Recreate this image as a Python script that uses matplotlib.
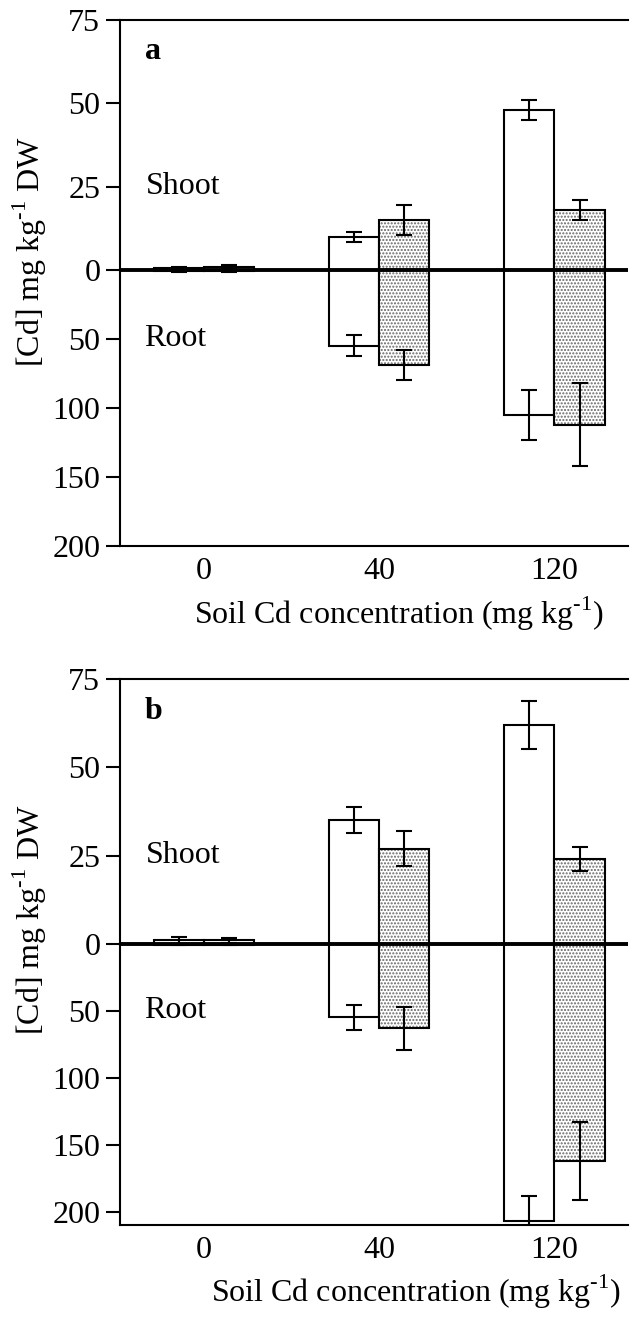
import numpy as np
import matplotlib
matplotlib.use("Agg")
import matplotlib.pyplot as plt

plt.rcParams['font.family'] = ['Liberation Serif', 'DejaVu Serif']
plt.rcParams['mathtext.fontset'] = 'custom'
plt.rcParams['mathtext.rm'] = 'Liberation Serif'

soil_cd = ["0", "40", "120"]

# panel a
shoot_a_white = [0.5, 10, 48]
shoot_a_white_err = [0.3, 1.5, 3]
shoot_a_dot = [1, 15, 18]
shoot_a_dot_err = [0.5, 4.4, 2.9]
root_a_white = [1, 55, 105]
root_a_white_err = [0.5, 7.5, 18]
root_a_dot = [1, 69, 112]
root_a_dot_err = [0.5, 11, 30]

# panel b
shoot_b_white = [1, 35, 62]
shoot_b_white_err = [1, 3.7, 6.7]
shoot_b_dot = [1, 27, 24]
shoot_b_dot_err = [0.7, 5, 3.4]
root_b_white = [0.5, 55, 207]
root_b_white_err = [0.3, 9, 19]
root_b_dot = [0.5, 63, 162]
root_b_dot_err = [0.3, 16, 29]

FS = 23
W = 0.286


def make_scale(k):
    # shoot (positive) and root (negative) use different px per unit
    def fwd(y):
        y = np.asarray(y, dtype=float)
        return np.where(y >= 0, y, y * k)

    def inv(y):
        y = np.asarray(y, dtype=float)
        return np.where(y >= 0, y, y / k)
    return fwd, inv


def panel(ax, k, ybottom, sw, swe, sd, sde, rw, rwe, rd, rde, letter):
    x = np.arange(len(soil_cd))
    ax.set_yscale('function', functions=make_scale(k))
    xw = x - W / 2
    xd = x + W / 2
    # shoot bars
    ax.bar(xw, sw, W, color='white', edgecolor='black', lw=1.5, zorder=2)
    ax.bar(xd, sd, W, color='white', edgecolor='#666666', hatch='.....', lw=0, zorder=2)
    ax.bar(xd, sd, W, color='none', edgecolor='black', lw=1.5, zorder=3)
    # root bars (downward)
    ax.bar(xw, -np.array(rw), W, color='white', edgecolor='black', lw=1.5, zorder=2)
    ax.bar(xd, -np.array(rd), W, color='white', edgecolor='#666666', hatch='.....', lw=0, zorder=2)
    ax.bar(xd, -np.array(rd), W, color='none', edgecolor='black', lw=1.5, zorder=3)
    ekw = dict(fmt='none', ecolor='black', elinewidth=1.5, capsize=5.5, capthick=1.5, zorder=4)
    ax.errorbar(xw, sw, yerr=swe, **ekw)
    ax.errorbar(xd, sd, yerr=sde, **ekw)
    ax.errorbar(xw, -np.array(rw), yerr=rwe, **ekw)
    ax.errorbar(xd, -np.array(rd), yerr=rde, **ekw)
    ax.axhline(0, color='black', lw=2.8, zorder=5)

    ax.set_xlim(-0.48, 2.42)
    ax.set_ylim(-ybottom, 75)
    ticks = [75, 50, 25, 0, -50, -100, -150, -200]
    ax.set_yticks(ticks)
    ax.set_yticklabels([str(abs(t)) for t in ticks], fontsize=FS)
    ax.set_xticks(x)
    ax.set_xticklabels(soil_cd, fontsize=FS)
    ax.tick_params(axis='y', length=10, width=1.5, pad=4)
    ax.tick_params(axis='x', length=0, pad=8)
    ax.spines['right'].set_visible(False)
    for s in ['left', 'bottom', 'top']:
        ax.spines[s].set_linewidth(1.5)

    ax.text(0.05, 0.94, letter, transform=ax.transAxes, fontsize=FS,
            fontweight='bold', va='center', ha='left')
    ax.text(-0.33, 25, 'Shoot', fontsize=FS, va='center', ha='left')
    ax.text(-0.34, -50, 'Root', fontsize=FS, va='center', ha='left')
    ax.set_ylabel('[Cd] mg kg$^{\\text{-1}}$ DW', fontsize=FS)
    ax.yaxis.set_label_coords(-0.14, 0.56)
    ax.set_xlabel('Soil Cd concentration (mg kg$^{\\text{-1}}$)', fontsize=FS)


fig = plt.figure(figsize=(6.3, 13.2), dpi=100)
ax1 = fig.add_axes([0.19, 0.5864, 0.807, 0.3985])
ax2 = fig.add_axes([0.19, 0.072, 0.807, 0.4136])

panel(ax1, 0.414, 200, shoot_a_white, shoot_a_white_err, shoot_a_dot, shoot_a_dot_err,
      root_a_white, root_a_white_err, root_a_dot, root_a_dot_err, 'a')
ax1.xaxis.set_label_coords(0.55, -0.093)

panel(ax2, 0.379, 210, shoot_b_white, shoot_b_white_err, shoot_b_dot, shoot_b_dot_err,
      root_b_white, root_b_white_err, root_b_dot, root_b_dot_err, 'b')
ax2.xaxis.set_label_coords(0.583, -0.087)

plt.savefig('out.png', dpi=100)
